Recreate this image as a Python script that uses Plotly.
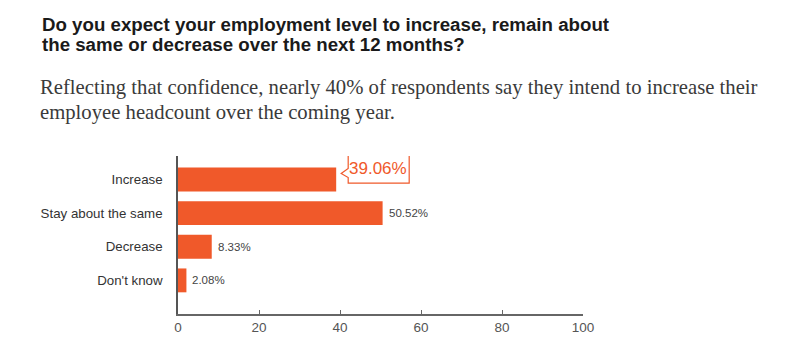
import plotly.graph_objects as go

categories = ["Increase", "Stay about the same", "Decrease", "Don't know"]
values = [39.06, 50.52, 8.33, 2.08]
value_labels = ["39.06%", "50.52%", "8.33%", "2.08%"]
x_ticks = [0, 20, 40, 60, 80, 100]

title_lines = [
    "Do you expect your employment level to increase, remain about",
    "the same or decrease over the next 12 months?",
]
subtitle_lines = [
    "Reflecting that confidence, nearly 40% of respondents say they intend to increase their",
    "employee headcount over the coming year.",
]

ORANGE = "#F0592A"
SANS = "Liberation Sans, Arial, sans-serif"

# page body has an 8px margin, so the figure is laid out 8px in
W, H = 784, 350
L, R, T, B = 170, 209, 148, 44

fig = go.Figure(
    go.Bar(
        x=values,
        y=categories,
        orientation="h",
        marker=dict(color=ORANGE, line=dict(width=0)),
        width=0.71,
        hoverinfo="skip",
    )
)

pw = W - L - R
ph = H - T - B
def px_to_paper_x(px):
    return (px - L) / pw
def py_to_paper_y(py):
    return (H - B - py) / ph

annotations = []
for i, line in enumerate(title_lines):
    annotations.append(dict(
        text=line, xref="paper", yref="paper",
        x=px_to_paper_x(32), y=py_to_paper_y(16.5 + 19.5 * i),
        xanchor="left", yanchor="middle", showarrow=False,
        font=dict(family=SANS, size=18.7, color="#1a1a1a", weight="bold"),
    ))
for i, line in enumerate(subtitle_lines):
    annotations.append(dict(
        text=line, xref="paper", yref="paper",
        x=px_to_paper_x(30), y=py_to_paper_y(80 + 24 * i),
        xanchor="left", yanchor="middle", showarrow=False,
        font=dict(family="Liberation Serif, Times New Roman, serif", size=20.7, color="#3a3a3a"),
    ))

for i, (c, v, lab) in enumerate(zip(categories, values, value_labels)):
    if i == 0:
        continue
    annotations.append(dict(
        text=lab, x=v, y=c, xref="x", yref="y",
        xanchor="left", yanchor="middle", xshift=4, showarrow=False,
        font=dict(family=SANS, size=11.5, color="#444444"),
    ))

annotations.append(dict(
    text=value_labels[0], x=values[0], y=categories[0], xref="x", yref="y",
    xanchor="center", yanchor="middle", xshift=42, yshift=11, showarrow=False,
    font=dict(family=SANS, size=17, color=ORANGE, weight=500),
))

shapes = [dict(
    type="path", xref="x", yref="y",
    xsizemode="pixel", ysizemode="pixel",
    xanchor=values[0], yanchor=categories[0],
    path="M 12 25.5 L 73 25.5 L 73 -3.5 L 12 -3.5 L 12 2 L 5 6 L 12 11 Z",
    line=dict(color=ORANGE, width=1.2),
    fillcolor="white",
    layer="below",
)]

fig.update_layout(
    width=W, height=H,
    margin=dict(l=L, r=R, t=T, b=B),
    plot_bgcolor="rgba(0,0,0,0)", paper_bgcolor="white",
    showlegend=False,
    annotations=annotations,
    shapes=shapes,
    xaxis=dict(
        range=[0, 100], tickvals=x_ticks, ticktext=[str(t) for t in x_ticks],
        showgrid=False, zeroline=False,
        showline=True, linecolor="#666666", linewidth=1.5,
        ticks="inside", ticklen=4, tickcolor="#666666", tickwidth=1,
        tickfont=dict(family=SANS, size=13.5, color="#555555"),
        fixedrange=True,
    ),
    yaxis=dict(
        categoryorder="array", categoryarray=categories,
        range=[4.0, -0.7],
        showgrid=False, zeroline=False,
        showline=True, linecolor="#555555", linewidth=1.5,
        ticks="", ticklabelstandoff=11,
        tickfont=dict(family=SANS, size=13.3, color="#333333"),
        fixedrange=True,
    ),
)

fig.write_html("out.html")
